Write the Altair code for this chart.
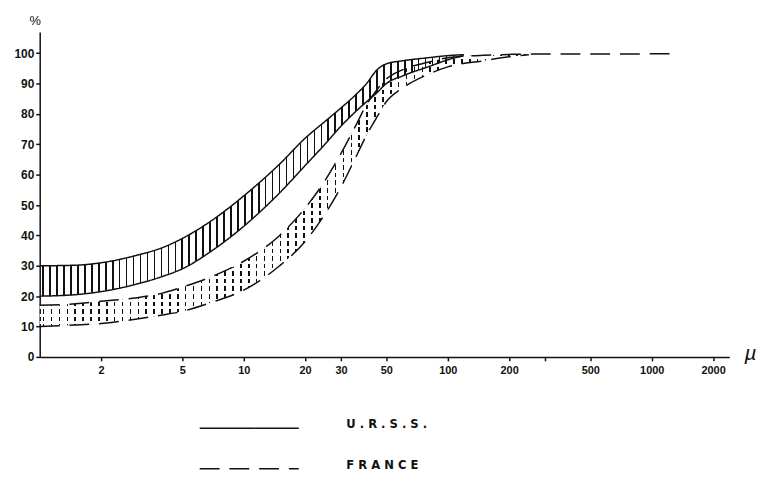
import altair as alt
import pandas as pd

# ---- data (particle size in microns, cumulative %) ----
URSS_MU = [1, 1.5, 2, 3, 4, 5, 7, 10, 15, 20, 25, 30, 35, 40, 45, 50, 60, 80, 100, 120]
URSS_UPPER = [30, 30.2, 31, 33.5, 36, 39, 45, 53, 63.5, 72, 77.5, 82, 86, 90, 94.5, 96.5, 97.5, 98.5, 99.2, 99.5]
URSS_LOWER = [20, 20.5, 21.5, 24, 26.5, 29, 35, 43, 54, 63, 70, 76, 80.5, 84, 87, 90, 92.5, 95.5, 97.8, 99.2]

FRANCE_MU = [1, 1.5, 2, 3, 4, 5, 7, 10, 15, 20, 25, 30, 35, 40, 45, 50, 60, 80, 100, 150, 200, 250]
FRANCE_UPPER = [17, 17.5, 18.3, 19.5, 21, 23, 26.5, 31.5, 40, 49, 58, 67, 75.5, 83, 88, 91.5, 94.5, 97, 98.5, 99.3, 99.6, 99.7]
FRANCE_LOWER = [10, 10.5, 11, 12.5, 13.8, 15, 18, 22, 30, 38, 47, 56, 65, 73, 79, 84, 88.5, 93, 95.5, 97.5, 98.8, 99.5]
FRANCE_TAIL_MU = [400, 700, 1000, 1300]
FRANCE_TAIL = [99.7, 99.7, 99.8, 99.8]

COUNTRIES = ["U.R.S.S.", "FRANCE"]
X_TICKS = [2, 5, 10, 20, 30, 50, 100, 200, 300, 500, 1000, 2000]
Y_TICKS = [0, 10, 20, 30, 40, 50, 60, 70, 80, 90, 100]

INK = "#111111"
CLEAR = "rgba(255,255,255,0)"
FONT = "Liberation Sans"
NARROW = "Liberation Sans Narrow, DejaVu Sans Condensed, Liberation Sans, sans-serif"

W, H = 696, 328

# ---- tables ----
urss = pd.DataFrame({"mu": URSS_MU, "lower": URSS_LOWER, "upper": URSS_UPPER})
france = pd.DataFrame({"mu": FRANCE_MU, "lower": FRANCE_LOWER, "upper": FRANCE_UPPER})

rows = []
for m, v in zip(URSS_MU, URSS_UPPER):
    rows.append({"country": COUNTRIES[0], "edge": "upper", "mu": m, "pct": v})
for m, v in zip(URSS_MU, URSS_LOWER):
    rows.append({"country": COUNTRIES[0], "edge": "lower", "mu": m, "pct": v})
for m, v in zip(FRANCE_MU + FRANCE_TAIL_MU, FRANCE_UPPER + FRANCE_TAIL):
    rows.append({"country": COUNTRIES[1], "edge": "upper", "mu": m, "pct": v})
for m, v in zip(FRANCE_MU, FRANCE_LOWER):
    rows.append({"country": COUNTRIES[1], "edge": "lower", "mu": m, "pct": v})
lines_df = pd.DataFrame(rows)


# ---- hatch textures as gradient fills (style only) ----
def stripes(n, width_frac, ink, horizontal=False):
    stops = [alt.GradientStop(offset=0, color=CLEAR)]
    for i in range(n):
        a = (i + 0.5) / n - width_frac / 2
        b = a + width_frac
        stops += [
            alt.GradientStop(offset=round(a, 5), color=CLEAR),
            alt.GradientStop(offset=round(a, 5), color=ink),
            alt.GradientStop(offset=round(b, 5), color=ink),
            alt.GradientStop(offset=round(b, 5), color=CLEAR),
        ]
    stops.append(alt.GradientStop(offset=1, color=CLEAR))
    if horizontal:
        return alt.Gradient(gradient="linear", stops=stops, x1=0, x2=0, y1=0, y2=1)
    return alt.Gradient(gradient="linear", stops=stops, x1=0, x2=1, y1=0, y2=0)


x_enc = alt.X(
    "mu:Q",
    scale=alt.Scale(type="log", domain=[1, 2400], nice=False),
    axis=alt.Axis(
        values=X_TICKS,
        format="d",
        labelExpr="datum.value == 300 ? '' : datum.label",
        grid=False,
        tickSize=4,
        labelPadding=4,
        labelFontSize=11,
        labelOverlap=False,
        labelFlush=False,
        title="µ",
        titleX=717,
        titleY=-3,
        titleAngle=0,
        titleAlign="center",
        titleBaseline="middle",
        titleFontSize=21,
        titleFontStyle="italic",
        titleFontWeight="normal",
    ),
)
y_scale = alt.Scale(domain=[0, 107], nice=False)
y_axis = alt.Axis(
    values=Y_TICKS,
    grid=False,
    tickSize=4,
    labelPadding=2,
    labelFontSize=12,
    labelOverlap=False,
    title="%",
    titleX=-5,
    titleY=-12,
    titleAngle=0,
    titleAlign="center",
    titleBaseline="middle",
    titleFontSize=13,
    titleFontWeight="normal",
)


def y_enc(field):
    return alt.Y(field, scale=y_scale, axis=y_axis)


france_hatch = alt.Chart(france).mark_area(
    interpolate="monotone", fill=stripes(62, 1.6 / 494, INK)
).encode(x=x_enc, y=y_enc("lower:Q"), y2="upper:Q")

france_cut = alt.Chart(france).mark_area(
    interpolate="monotone", fill=stripes(36, 3.0 / 275, "#ffffff", horizontal=True)
).encode(x=x_enc, y=y_enc("lower:Q"), y2="upper:Q")

urss_hatch = alt.Chart(urss).mark_area(
    interpolate="monotone", fill=stripes(61, 1.6 / 428, INK)
).encode(x=x_enc, y=y_enc("lower:Q"), y2="upper:Q")

edges = alt.Chart(lines_df).mark_line(
    interpolate="monotone", strokeWidth=1.5, color=INK
).encode(
    x=x_enc,
    y=y_enc("pct:Q"),
    detail="edge:N",
    strokeDash=alt.StrokeDash(
        "country:N",
        scale=alt.Scale(domain=COUNTRIES, range=[[1, 0], [20, 10]]),
        sort=COUNTRIES,
        legend=alt.Legend(
            title=None,
            orient="none",
            legendX=187.5,
            legendY=376,
            direction="vertical",
            padding=0,
            rowPadding=14,
            symbolType="M-2.174,0H2.174",
            symbolSize=2116,
            symbolStrokeWidth=1.5,
            symbolStrokeColor=INK,
            symbolFillColor="transparent",
            labelFont=NARROW,
            labelFontSize=13,
            labelFontWeight="bold",
            labelColor=INK,
            labelOffset=74,
            labelBaseline="alphabetic",
            labelExpr="join(split(datum.label, ''), ' ')",
        ),
    ),
)

chart = (
    alt.layer(france_hatch, france_cut, urss_hatch, edges)
    .properties(
        width=W,
        height=H,
        autosize=alt.AutoSizeParams(type="none"),
        padding={"left": 32, "top": 22, "right": 30, "bottom": 114},
        background="white",
    )
    .configure_view(stroke=None)
    .configure_axis(
        domainColor=INK,
        domainWidth=1.5,
        tickColor=INK,
        tickWidth=1.5,
        labelFont=FONT,
        labelFontWeight="bold",
        labelColor=INK,
        titleFont=FONT,
        titleColor=INK,
    )
)

chart.save("out.html", embed_options={"renderer": "svg", "actions": False})
